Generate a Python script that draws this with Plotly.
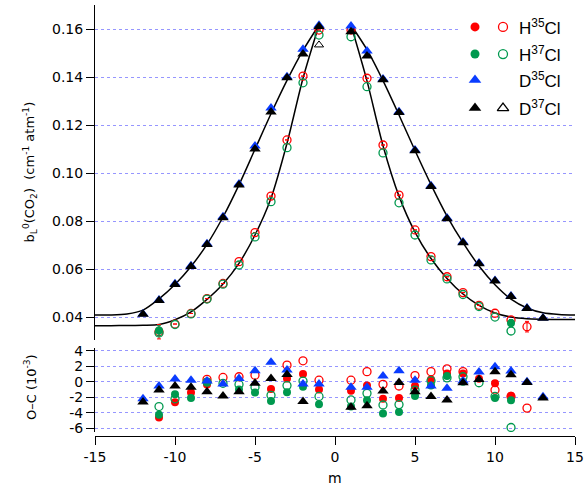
import plotly.graph_objects as go

# ---------------- data ----------------
# rotational quantum number m for the HCl and DCl lines
m_H = [-11, -10, -9, -8, -7, -6, -5, -4, -3, -2, -1,
       1, 2, 3, 4, 5, 6, 7, 8, 9, 10, 11, 12]
m_D = [-12, -11, -10, -9, -8, -7, -6, -5, -4, -3, -2, -1,
       1, 2, 3, 4, 5, 6, 7, 8, 9, 10, 11, 12, 13]

# broadening coefficients b_L^0(CO2) in cm^-1 atm^-1
b_H35 = [0.0340, 0.0372, 0.0416, 0.0478, 0.0541, 0.0632, 0.0753, 0.0905, 0.1139, 0.1405, 0.1597,
         0.1597, 0.1396, 0.1118, 0.0909, 0.0764, 0.0653, 0.0569, 0.0503, 0.0450, 0.0417, 0.0389, 0.0361]
b_H37 = [0.0335, 0.0370, 0.0414, 0.0476, 0.0538, 0.0618, 0.0735, 0.0882, 0.1107, 0.1377, 0.1576,
         0.1569, 0.1361, 0.1085, 0.0877, 0.0743, 0.0639, 0.0560, 0.0495, 0.0445, 0.0401, 0.0343, None]
b_D35 = [0.0414, 0.0472, 0.0540, 0.0615, 0.0706, 0.0819, 0.0955, 0.1114, 0.1272, 0.1402, 0.1517, 0.1617,
         0.1614, 0.1510, 0.1393, 0.1257, 0.1097, 0.0948, 0.0814, 0.0714, 0.0626, 0.0553, 0.0489, 0.0439, 0.0397]
b_D37 = [0.0413, 0.0470, 0.0537, 0.0612, 0.0703, 0.0815, 0.0951, 0.1101, 0.1255, 0.1398, 0.1497, 0.1612,
         0.1590, 0.1489, 0.1390, 0.1253, 0.1094, 0.0945, 0.0811, 0.0711, 0.0623, 0.0551, 0.0487, 0.0437, 0.0396]

# uncertainties (only the few lines with visible error bars)
err_H35 = [0.0030, 0, 0, 0, 0, 0, 0, 0, 0, 0, 0,
           0, 0, 0, 0, 0, 0, 0, 0, 0, 0, 0, 0.0022]

# second set of H37Cl values shown filled
m_H37_b = [-11, 11]
b_H37_b = [0.0345, 0.0376]
err_H37_b = [0.0020, 0.0015]

# single open D37Cl value
m_D37_b = [-1]
b_D37_b = [0.1535]

# fitted model curves (P and R branches)
m_fitP = [-15, -14, -13, -12, -11, -10, -9, -8, -7, -6, -5, -4, -3, -2, -1]
m_fitR = [1, 2, 3, 4, 5, 6, 7, 8, 9, 10, 11, 12, 13, 14, 15]
fit_HP = [0.0365, 0.0365, 0.0366, 0.0367, 0.0370, 0.0390, 0.0423, 0.0475, 0.0539, 0.0625, 0.0743,
          0.0896, 0.1125, 0.1396, 0.1618]
fit_HR = [0.1618, 0.1385, 0.1115, 0.0905, 0.0755, 0.0645, 0.0562, 0.0497, 0.0450, 0.0418, 0.0401,
          0.0394, 0.0392, 0.0391, 0.0391]
fit_DP = [0.0410, 0.0410, 0.0414, 0.0430, 0.0477, 0.0537, 0.0612, 0.0704, 0.0818, 0.0952, 0.1100,
          0.1248, 0.1387, 0.1512, 0.1618]
fit_DR = [0.1618, 0.1515, 0.1386, 0.1243, 0.1095, 0.0953, 0.0822, 0.0711, 0.0614, 0.0536, 0.0476,
          0.0439, 0.0419, 0.0412, 0.0410]

# residuals O-C in units of 1e-3
oc_H35_f = [-4.6, -2.65, -1.4, -0.35, None, None, None, -0.95, 0.43, 1.0, -1.0,
            -1.15, -0.5, -2.2, -2.1, -0.55, 0.3, 1.07, 1.07, 0.38, -0.21, -1.8, None]
oc_H35_o = [None, None, None, 0.3, 0.55, 0.64, 0.85, None, 2.14, 2.7, 0.2,
            0.2, 1.3, -0.34, -0.55, 0.8, 1.3, 1.67, 1.3, None, -1.07, -1.9, -3.4]
oc_H37_f = [-4.27, -1.6, -2.1, 0.0, None, -1.0, -1.4, -2.5, -1.37, -0.64, -2.9,
            -3.2, -2.4, -4.1, -3.9, -1.85, -0.47, 0.73, 0.0, None, -2.1, -2.4, None]
oc_H37_o = [-3.2, -2.2, None, -0.05, -0.2, -0.35, -0.72, -1.75, -0.5, 0.09, -1.9,
            -2.35, -1.5, -3.0, -2.95, -1.07, 0.13, 0.5, 0.64, -0.13, -1.9, -5.9, None]
oc_D35 = [-2.2, -0.55, 0.34, 0.2, 0.1, -0.3, 0.43, 1.4, 2.5, 1.5, -0.3, -0.3,
          -0.7, -0.7, 0.73, 1.4, 0.2, -0.55, -0.85, 0.1, 1.24, 1.92, 1.37, 0.0, -1.95]
oc_D37 = [-2.6, -1.07, -0.55, -0.7, -1.3, -1.85, -1.3, -0.2, 0.43, 0.94, -2.56, None,
          -3.3, -3.1, -1.2, -0.1, -1.3, -1.9, -2.35, -0.13, 0.3, 1.3, 0.9, -0.09, -2.1]

# axis ticks
x_ticks = [-15, -10, -5, 0, 5, 10, 15]
y_top_ticks = [0.04, 0.06, 0.08, 0.10, 0.12, 0.14, 0.16]
y_bot_ticks = [-6, -4, -2, 0, 2, 4]

# legend entries
legend_labels = ["H<sup>35</sup>Cl", "H<sup>37</sup>Cl", "D<sup>35</sup>Cl", "D<sup>37</sup>Cl"]

# ---------------- styling ----------------
RED = "#ff0000"
GREEN = "#00994f"
BLUE = "#0a3cff"
BLACK = "#000000"
GRID = "rgb(150,150,255)"
FONT = "DejaVu Sans"

fig = go.Figure()

# fitted curves
for mx, fy in [(m_fitP, fit_HP), (m_fitR, fit_HR), (m_fitP, fit_DP), (m_fitR, fit_DR)]:
    fig.add_trace(go.Scatter(x=mx, y=fy, mode="lines", xaxis="x", yaxis="y",
                             line=dict(color=BLACK, width=1.5, shape="spline", smoothing=0.8),
                             showlegend=False, hoverinfo="skip"))

# top panel points
fig.add_trace(go.Scatter(x=m_H, y=b_H35, mode="markers", xaxis="x", yaxis="y",
                         marker=dict(symbol="circle-open", size=8, color=RED, line=dict(width=1.3)),
                         error_y=dict(type="data", array=err_H35, color=RED, thickness=1, width=2),
                         showlegend=False))
fig.add_trace(go.Scatter(x=m_H37_b, y=b_H37_b, mode="markers", xaxis="x", yaxis="y",
                         marker=dict(symbol="circle", size=8, color=GREEN),
                         error_y=dict(type="data", array=err_H37_b, color=GREEN, thickness=1, width=2),
                         showlegend=False))
fig.add_trace(go.Scatter(x=m_H, y=b_H37, mode="markers", xaxis="x", yaxis="y",
                         marker=dict(symbol="circle-open", size=8, color=GREEN, line=dict(width=1.3)),
                         showlegend=False))
fig.add_trace(go.Scatter(x=m_D, y=b_D35, mode="markers", xaxis="x", yaxis="y",
                         marker=dict(symbol="triangle-up", size=10, color=BLUE),
                         showlegend=False))
fig.add_trace(go.Scatter(x=m_D, y=b_D37, mode="markers", xaxis="x", yaxis="y",
                         marker=dict(symbol="triangle-up", size=10, color=BLACK),
                         showlegend=False))
fig.add_trace(go.Scatter(x=m_D37_b, y=b_D37_b, mode="markers", xaxis="x", yaxis="y",
                         marker=dict(symbol="triangle-up-open", size=8, color=BLACK, line=dict(width=1)),
                         showlegend=False))

# residual panel
fig.add_trace(go.Scatter(x=m_H, y=oc_H35_f, mode="markers", xaxis="x", yaxis="y2",
                         marker=dict(symbol="circle", size=8, color=RED), showlegend=False))
fig.add_trace(go.Scatter(x=m_H, y=oc_H35_o, mode="markers", xaxis="x", yaxis="y2",
                         marker=dict(symbol="circle-open", size=8, color=RED, line=dict(width=1.3)),
                         showlegend=False))
fig.add_trace(go.Scatter(x=m_H, y=oc_H37_f, mode="markers", xaxis="x", yaxis="y2",
                         marker=dict(symbol="circle", size=8, color=GREEN), showlegend=False))
fig.add_trace(go.Scatter(x=m_H, y=oc_H37_o, mode="markers", xaxis="x", yaxis="y2",
                         marker=dict(symbol="circle-open", size=8, color=GREEN, line=dict(width=1.3)),
                         showlegend=False))
fig.add_trace(go.Scatter(x=m_D, y=oc_D35, mode="markers", xaxis="x", yaxis="y2",
                         marker=dict(symbol="triangle-up", size=10, color=BLUE), showlegend=False))
fig.add_trace(go.Scatter(x=m_D, y=oc_D37, mode="markers", xaxis="x", yaxis="y2",
                         marker=dict(symbol="triangle-up", size=10, color=BLACK), showlegend=False))

# legend: filled and open symbol pairs with labels
leg_rows = [0.1610, 0.1497, 0.1389, 0.1272]
leg_filled = [("circle", RED, 9), ("circle", GREEN, 9), ("triangle-up", BLUE, 11), ("triangle-up", BLACK, 11)]
leg_open = [("circle-open", RED, 9), ("circle-open", GREEN, 9), None, ("triangle-up-open", BLACK, 10)]
for yy, f, o in zip(leg_rows, leg_filled, leg_open):
    fig.add_trace(go.Scatter(x=[8.75], y=[yy], mode="markers", xaxis="x", yaxis="y",
                             marker=dict(symbol=f[0], size=f[2], color=f[1]),
                             showlegend=False, hoverinfo="skip"))
    if o is not None:
        fig.add_trace(go.Scatter(x=[10.5], y=[yy], mode="markers", xaxis="x", yaxis="y",
                                 marker=dict(symbol=o[0], size=o[2], color=o[1], line=dict(width=1.3)),
                                 showlegend=False, hoverinfo="skip"))
for yy, lab in zip(leg_rows, legend_labels):
    fig.add_annotation(x=11.4, y=yy, xref="x", yref="y", text=lab, showarrow=False,
                       xanchor="left", yanchor="middle",
                       font=dict(family="Liberation Sans", size=17, color=BLACK))

axis_common = dict(showline=True, linecolor=BLACK, linewidth=1, ticks="outside",
                   ticklen=8, tickwidth=1, tickcolor=BLACK, zeroline=False, automargin=False,
                   tickfont=dict(family=FONT, size=14, color=BLACK))

fig.update_layout(
    width=587, height=494,
    margin=dict(l=95, r=12, t=5, b=58, autoexpand=False),
    paper_bgcolor="white", plot_bgcolor="white",
    xaxis=dict(domain=[0, 1], range=[-15, 15], anchor="free", position=0,
               tickvals=x_ticks, ticktext=[str(v) for v in x_ticks],
               showgrid=False, **axis_common),
    yaxis=dict(domain=[0.2227, 1], range=[0.03054, 0.17013], anchor="x",
               tickvals=y_top_ticks, ticktext=["%.2f" % v for v in y_top_ticks],
               showgrid=True, gridcolor=GRID, griddash="dot", gridwidth=1, **axis_common),
    yaxis2=dict(domain=[0.0093, 0.2042], range=[-6.48, 4.35], anchor="x",
                tickvals=y_bot_ticks, ticktext=[str(v) for v in y_bot_ticks],
                showgrid=True, gridcolor=GRID, griddash="dot", gridwidth=1, **axis_common),
    showlegend=False,
)

# white panel behind the legend
fig.add_shape(type="rect", xref="x", yref="y", x0=7.7, x1=15.6, y0=0.1225, y1=0.1705,
              fillcolor="white", line=dict(width=0), layer="between")

# axis titles
fig.add_annotation(x=-0.135, y=0.612, xref="paper", yref="paper", textangle=-90, showarrow=False,
                   xanchor="center", yanchor="middle",
                   text="b<sub>L</sub><sup>0</sup>(CO<sub>2</sub>)  (cm<sup>-1</sup> atm<sup>-1</sup>)",
                   font=dict(family=FONT, size=13, color=BLACK))
fig.add_annotation(x=-0.135, y=0.114, xref="paper", yref="paper", textangle=-90, showarrow=False,
                   xanchor="center", yanchor="middle",
                   text="O–C (10<sup>-3</sup>)",
                   font=dict(family=FONT, size=13, color=BLACK))
fig.add_annotation(x=0.5, y=-0.097, xref="paper", yref="paper", showarrow=False,
                   xanchor="center", yanchor="middle",
                   text="m", font=dict(family=FONT, size=14, color=BLACK))

fig.write_html("out.html")
